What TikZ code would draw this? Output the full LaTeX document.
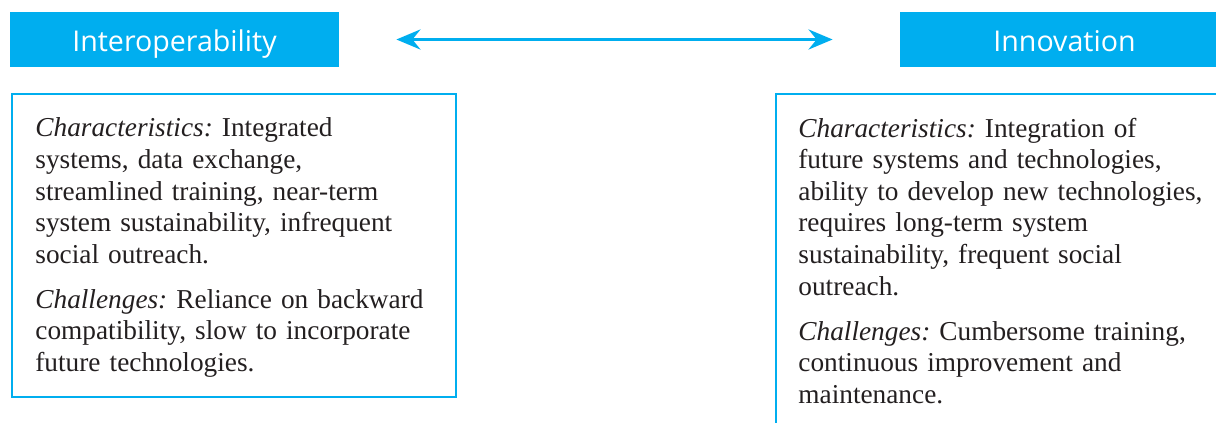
\documentclass[tikz,border=0pt]{standalone}
\usepackage{fontspec}
\setmainfont{Liberation Serif}
\newfontfamily\headfont{Open Sans}
\usetikzlibrary{arrows.meta,positioning}
\definecolor{ProcessCyan}{RGB}{0,174,239}
\definecolor{InkBlack}{RGB}{35,31,32}
\frenchspacing

\begin{document}
\begin{tikzpicture}[x=0.5pt,y=0.5pt,>={Stealth[length=12pt,width=10pt,inset=4pt]},
    headbox/.style={fill=ProcessCyan,text=white,minimum width=164.5pt,text height=19.85pt,text depth=7.65pt,
      inner sep=0pt,font=\headfont\fontsize{14.3pt}{16pt}\selectfont},
    infobox/.style={draw=ProcessCyan,line width=1pt,minimum width=222pt,inner sep=0pt,anchor=north west},
    infotext/.style={text=InkBlack,text width=215pt,align=left,inner sep=0pt,anchor=north west,
      font=\fontsize{13.65pt}{15.8pt}\selectfont}]
      \useasboundingbox (0,0) rectangle (1216,423);
      \clip (0,0) rectangle (1216,423);
      % headings and the arrow between them
      \node[headbox] (inter) at (174.5,383.5) {Interoperability};
      \node[headbox] (innov) at (1064.5,383.5) {Innovation};
      \draw[<->,ProcessCyan,line width=1.8pt] ([xshift=28.5pt]inter.east) -- ([xshift=-33.5pt]innov.west);
      % boxes
      \node[infobox,minimum height=151.5pt] (interbox) at (11,330) {};
      \node[infobox,minimum height=200pt] (innovbox) at (775,330) {};
      \node[infotext] (intertext) at (35,305.5) {\textit{Characteristics:} Integrated\\
        systems, data exchange,\\ streamlined training, near-term\\
        system sustainability, infrequent\\ social outreach.\\[6.7pt]
        \textit{Challenges:} Reliance on backward\\ compatibility, slow to incorporate\\
        future technologies.};
      \node[infotext] (innovtext) at (798,305.5) {\textit{Characteristics:} Integration of\\
        future systems and technologies,\\ ability to develop new technologies,\\
        requires long-term system\\ sustainability, frequent social\\ outreach.\\[6.7pt]
        \textit{Challenges:} Cumbersome training,\\ continuous improvement and\\
        maintenance.};
    \end{tikzpicture}
\end{document}
